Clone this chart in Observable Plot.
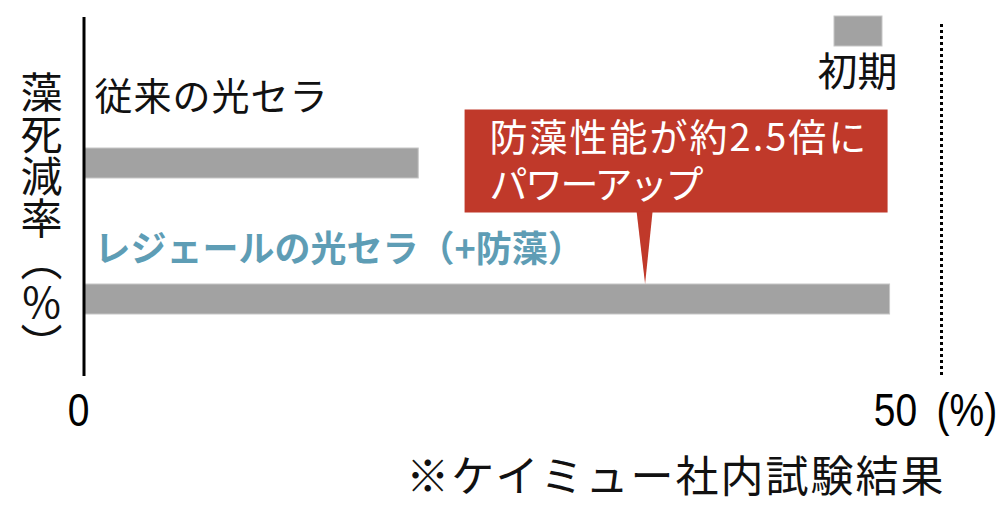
<!DOCTYPE html>
<html><head><meta charset="utf-8">
<script src="https://cdn.jsdelivr.net/npm/d3@7"></script>
<script src="https://cdn.jsdelivr.net/npm/@observablehq/plot@0.6"></script>
<style>
body{margin:0;background:#fff;}
#chart svg{display:block;}
</style></head><body><div id="chart"></div>
<script>
const categories = ["従来の光セラ", "レジェールの光セラ（+防藻）"];
const values = [19.5, 47.0];
const tickValues = [0, 50];
const tickLabels = ["0", "50\u2002(%)"];
const yTitle = ["藻", "死", "減", "率", "（", "%", "）"];
const legendLabel = "初期";
const calloutLines = ["防藻性能が約2.5倍に", "パワーアップ"];
const caption = "※ケイミュー社内試験結果";

const data = categories.map((c, i) => ({category: c, value: values[i]}));
const ticks = tickValues.map((v, i) => ({value: v, label: tickLabels[i]}));
const yTitleText = yTitle.join("");

const JP = "'Noto Sans CJK JP', 'Noto Sans', sans-serif";
const NUM = "'Liberation Sans', Arial, sans-serif";
const RED = "#c0392a";
const BLUE = "#5e9db5";
const GREY = "#a2a2a2";

const chart = Plot.plot({
  width: 1000, height: 514,
  marginLeft: 84, marginRight: 59, marginTop: 17, marginBottom: 138,
  x: {domain: [0, 50], axis: null},
  y: {domain: categories, range: [41.1, 421.5], padding: 0.777, axis: null},
  style: {background: "#fff", fontFamily: JP, overflow: "visible"},
  marks: [
    Plot.barX(data, {x: "value", y: "category", fill: GREY, stroke: "#c6c6c6", strokeWidth: 1}),
    Plot.ruleX([0], {stroke: "#000", strokeWidth: 3, dx: -0.5}),
    Plot.ruleX([50], {stroke: "#000", strokeWidth: 3, strokeDasharray: "3,3", insetTop: 7}),
    Plot.text(ticks, {x: "value", text: "label", frameAnchor: "bottom", dy: 34, dx: -6,
      fontSize: 47, fontFamily: NUM, fill: "#000", lineAnchor: "middle"}),
    Plot.text(data.slice(0, 1), {y: "category", text: "category", frameAnchor: "left",
      textAnchor: "start", dx: 10, dy: -66, fontSize: 38, fill: "#111"}),
    Plot.text(data.slice(1, 2), {y: "category", text: "category", frameAnchor: "left",
      textAnchor: "start", dx: 10, dy: -49, fontSize: 36, fontWeight: "bold", fill: BLUE}),
    Plot.text([yTitleText], {text: d => d, frameAnchor: "left", dx: -43, dy: 21.5,
      fontSize: 42, textAnchor: "middle", fill: "#111"}),
    Plot.text([legendLabel], {text: d => d, frameAnchor: "top-right", dx: -84, dy: 56,
      fontSize: 40, textAnchor: "middle", lineAnchor: "middle", fill: "#111"}),
    Plot.text([caption], {text: d => d, frameAnchor: "bottom-right", dx: 4, dy: 102,
      fontSize: 43, textAnchor: "end", lineAnchor: "middle", fill: "#111"})
  ]
});

const svg = d3.select(chart);
svg.selectAll("text").each(function() {
  const t = d3.select(this);
  const s = this.textContent;
  if (tickLabels.includes(s)) {
    t.attr("transform", (t.attr("transform") || "") + " scale(0.83,1)");
  }
  if (s === caption) t.attr("letter-spacing", 2);
  if (s === categories[0]) t.attr("letter-spacing", 1);
  if (s === yTitleText) {
    t.attr("dy", null).attr("y", null)
      .style("writing-mode", "vertical-rl").style("text-orientation", "upright");
    t.selectAll("tspan").attr("dy", null).attr("y", null);
  }
});

const xs = chart.scale("x"), ys = chart.scale("y");
const bandTop2 = ys.apply(categories[1]);
const barEnd2 = xs.apply(values[1]);
const bx2 = barEnd2 - 2, bx1 = bx2 - 423;
const by2 = bandTop2 - 71.5, by1 = by2 - 103;
const tipX = bx2 - 243;
const g = svg.append("g");
g.append("rect").attr("x", bx1).attr("y", by1).attr("width", bx2 - bx1).attr("height", by2 - by1).attr("fill", RED);
g.append("path").attr("d", `M${tipX - 8},${by2 - 1}L${tipX + 8},${by2 - 1}L${tipX + 0.5},${bandTop2}Z`).attr("fill", RED);
const spacing = [2, -2.5];
calloutLines.forEach((line, i) => {
  g.append("text").attr("x", bx1 + 25).attr("y", by1 + 28 + i * 47).attr("dy", "0.35em")
    .attr("text-anchor", "start").attr("letter-spacing", spacing[i])
    .attr("fill", "#fff").attr("font-size", 38).attr("font-family", JP).text(line);
});
// legend swatch
const lx2 = xs.apply(50) - 59, ly1 = 16;
svg.append("rect").attr("x", lx2 - 48).attr("y", ly1).attr("width", 48).attr("height", 30)
  .attr("fill", GREY).attr("stroke", "#c6c6c6").attr("stroke-width", 1);

document.getElementById("chart").appendChild(chart);
</script></body></html>
